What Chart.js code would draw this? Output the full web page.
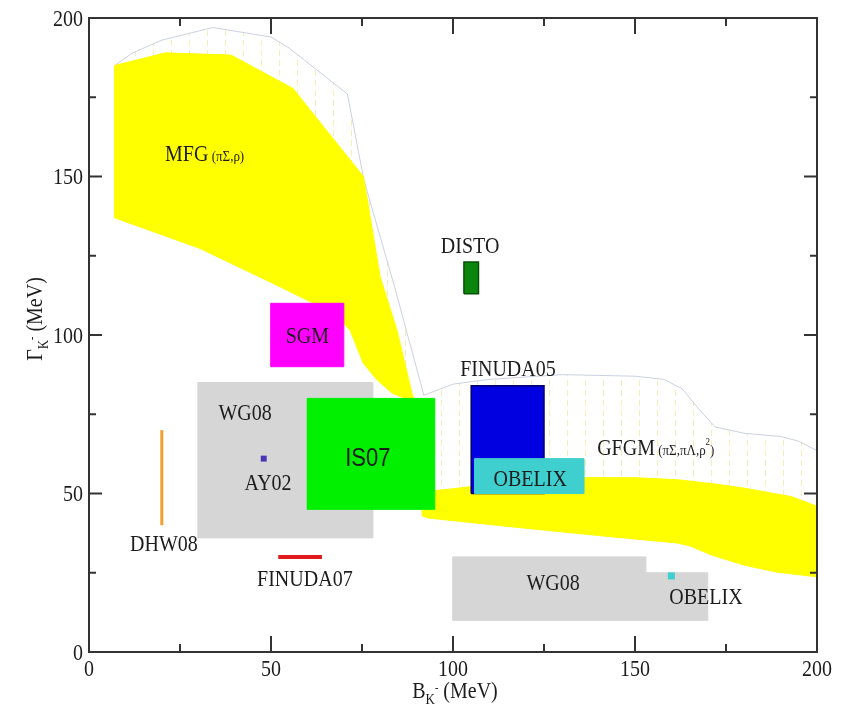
<!DOCTYPE html>
<html>
<head>
<meta charset="utf-8">
<title>K⁻ nuclear potential: binding energy vs width</title>
<script src="https://cdn.jsdelivr.net/npm/chart.js@4.4.1/dist/chart.umd.min.js"></script>
<style>
  html, body { margin: 0; padding: 0; background: #ffffff; }
  #wrap { width: 842px; height: 715px; }
</style>
</head>
<body>
<div id="wrap"><canvas id="chart" width="842" height="715"></canvas></div>
<script>
// ---- axis ticks (MeV) ----
const majorTicks = [0, 50, 100, 150, 200];
const minorTicks = [25, 75, 125, 175];

// ---- MFG (πΣ,ρ) band: B_K (MeV) vs Γ_K (MeV) ----
const mfgUpperB = [7, 21, 39, 56, 75.4, 80, 84.6, 88.7, 90];
const mfgUpperG = [185, 189, 188.3, 177.8, 150, 118.3, 101.6, 81.7, 77];
const mfgLowerB = [88, 83.2, 79, 75.3, 71.7, 67, 52.5, 30.5, 7];
const mfgLowerG = [79.5, 81.7, 86, 91.2, 101.6, 107, 115.2, 127.3, 137];
// outer envelope of the MFG calculation
const mfgEdgeB = [7, 12, 20, 34, 50, 55, 71, 75.5, 84, 92];
const mfgEdgeG = [185, 189, 193, 197, 194, 190.5, 176, 149, 115, 81];

// ---- GFGM (πΣ,πΛ,ρ²) band ----
const gfgmUpperB = [91.5, 100, 115, 137, 150, 162, 172, 180, 193, 200];
const gfgmUpperG = [50.5, 51.5, 53.5, 55, 55, 54.3, 53, 51.7, 49, 46];
const gfgmLowerB = [200, 189, 180, 171, 165, 161.5, 143, 116, 93, 91.5];
const gfgmLowerG = [23.7, 25.2, 27.4, 30.6, 33.5, 34.4, 36.4, 39.5, 42.3, 43];
// outer envelope of the GFGM calculation
const gfgmEdgeB = [92, 100, 110, 130, 150, 158, 163, 168, 172, 180, 190, 195, 200];
const gfgmEdgeG = [81, 84.5, 86, 87.5, 87, 86, 83, 76, 71, 69, 68, 66.5, 63.5];

// ---- experimental / model boxes: ranges in B and Γ ----
const boxNames = ['WG08', 'WG08', 'WG08', 'SGM', 'DISTO', 'IS07', 'FINUDA05', 'OBELIX'];
const boxBLow  = [30, 100, 153, 50, 103, 60, 105, 106];
const boxBHigh = [78, 153, 170, 70, 107, 95, 125, 136];
const boxGLow  = [36, 10, 10, 90, 113, 45, 50, 50];
const boxGHigh = [85, 30, 25, 110, 123, 80, 84, 61];

// ---- ranges drawn as bars ----
const dhw08B = [20, 20];
const dhw08G = [40, 70];
const finuda07B = [52, 64];
const finuda07G = [30, 30];

// ---- single points ----
const ay02B = [48];
const ay02G = [61];
const obelixPointB = [160];
const obelixPointG = [24];

// ---------------------------------------------------------------
const pts = (bs, gs) => bs.map((b, i) => ({ x: b, y: gs[i] }));
const ring = (bUp, gUp, bLo, gLo) => pts(bUp.concat(bLo), gUp.concat(gLo)).concat([{ x: bUp[0], y: gUp[0] }]);
const rect = i => pts(
  [boxBLow[i], boxBHigh[i], boxBHigh[i], boxBLow[i], boxBLow[i]],
  [boxGLow[i], boxGLow[i], boxGHigh[i], boxGHigh[i], boxGLow[i]]
);

// faint vertical dashed hatching for the model envelopes
function hatch() {
  const c = document.createElement('canvas');
  c.width = 18; c.height = 10;
  const g = c.getContext('2d');
  g.strokeStyle = 'rgba(236, 226, 120, 0.55)';
  g.lineWidth = 1;
  g.beginPath(); g.moveTo(9.5, 0); g.lineTo(9.5, 6); g.stroke();
  return g.createPattern(c, 'repeat');
}
const hatchFill = hatch();

const boxStyle = {
  'WG08': { bg: '#d6d6d6', border: '#d6d6d6', w: 1 },
  'SGM': { bg: '#ff00ff', border: '#ff00ff', w: 1 },
  'DISTO': { bg: '#0b850b', border: '#055205', w: 1.5 },
  'IS07': { bg: '#00f000', border: '#00f000', w: 1 },
  'FINUDA05': { bg: '#0000e0', border: '#00006a', w: 1.5 },
  'OBELIX': { bg: '#40cfcf', border: '#40cfcf', w: 1 }
};
const boxOrder = { 'WG08': 60, 'SGM': 50, 'DISTO': 50, 'IS07': 45, 'FINUDA05': 44, 'OBELIX': 40 };

const datasets = [];

// model envelopes (hatched regions + thin outline)
datasets.push({
  data: ring(mfgEdgeB, mfgEdgeG, mfgUpperB.slice().reverse(), mfgUpperG.slice().reverse()),
  fill: 'shape', backgroundColor: hatchFill, borderColor: 'rgba(0,0,0,0)', borderWidth: 1, order: 100
});
datasets.push({
  data: ring(gfgmEdgeB, gfgmEdgeG, gfgmUpperB.slice().reverse(), gfgmUpperG.slice().reverse()),
  fill: 'shape', backgroundColor: hatchFill, borderColor: 'rgba(0,0,0,0)', borderWidth: 1, order: 100
});
datasets.push({
  data: pts(mfgEdgeB, mfgEdgeG), fill: false,
  borderColor: 'rgba(190, 198, 218, 0.8)', borderWidth: 1, order: 95
});
datasets.push({
  data: pts(gfgmEdgeB, gfgmEdgeG), fill: false,
  borderColor: 'rgba(190, 198, 218, 0.8)', borderWidth: 1, order: 95
});

// yellow model bands
datasets.push({
  data: ring(mfgUpperB, mfgUpperG, mfgLowerB, mfgLowerG),
  fill: 'shape', backgroundColor: '#ffff00', borderColor: '#ffff00', borderWidth: 1, order: 80
});
datasets.push({
  data: ring(gfgmUpperB, gfgmUpperG, gfgmLowerB, gfgmLowerG),
  fill: 'shape', backgroundColor: '#ffff00', borderColor: '#ffff00', borderWidth: 1, order: 80
});

// boxes
boxNames.forEach((name, i) => {
  const s = boxStyle[name];
  datasets.push({
    data: rect(i), fill: 'shape', backgroundColor: s.bg,
    borderColor: s.border, borderWidth: s.w, order: boxOrder[name]
  });
});

// DHW08 and FINUDA07 ranges
datasets.push({ data: pts(dhw08B, dhw08G), borderColor: '#f0a030', borderWidth: 3, fill: false, order: 20 });
datasets.push({ data: pts(finuda07B, finuda07G), borderColor: '#e01a1a', borderWidth: 4, fill: false, order: 20 });

// single points
datasets.push({
  data: pts(ay02B, ay02G), showLine: false, pointStyle: 'rect', pointRadius: 4.2,
  pointBackgroundColor: '#4a35b5', pointBorderWidth: 0, order: 10
});
datasets.push({
  data: pts(obelixPointB, obelixPointG), showLine: false, pointStyle: 'rect', pointRadius: 5,
  pointBackgroundColor: '#40cfcf', pointBorderWidth: 0, order: 10
});

// ---- text placed in data coordinates ----
const SERIF = "'Liberation Serif', 'Times New Roman', serif";
const SANS = "'Liberation Sans', Arial, sans-serif";
const STRETCH = 1.15;   // glyphs are drawn a little taller than wide
const labelSpots = [
  { b: 20.9, g: 157.4, align: 'left', parts: [{ t: 'MFG', s: 20 }, { t: ' (πΣ,ρ)', s: 13 }] },
  { b: 60, g: 100, parts: [{ t: 'SGM', s: 20 }] },
  { b: 104.7, g: 128.4, parts: [{ t: 'DISTO', s: 20 }] },
  { b: 115.1, g: 89.6, parts: [{ t: 'FINUDA05', s: 20 }] },
  { b: 139.6, g: 64.7, align: 'left', parts: [{ t: 'GFGM', s: 20 }, { t: ' (πΣ,πΛ,ρ', s: 13 }, { t: '2', s: 9, dy: -8 }, { t: ')', s: 13 }] },
  { b: 121.2, g: 54.9, parts: [{ t: 'OBELIX', s: 20 }] },
  { b: 42.9, g: 75.7, parts: [{ t: 'WG08', s: 20 }] },
  { b: 49.2, g: 53.6, parts: [{ t: 'AY02', s: 20 }] },
  { b: 76.6, g: 61.2, font: SANS, parts: [{ t: 'IS07', s: 22 }] },
  { b: 20.6, g: 34.4, parts: [{ t: 'DHW08', s: 20 }] },
  { b: 59.3, g: 23.3, parts: [{ t: 'FINUDA07', s: 20 }] },
  { b: 127.5, g: 22.1, parts: [{ t: 'WG08', s: 20 }] },
  { b: 169.5, g: 17.4, parts: [{ t: 'OBELIX', s: 20 }] }
];

// draws a run of differently sized pieces on one baseline
function drawParts(ctx, parts, x, y, align, family, stretch) {
  let total = 0;
  const widths = parts.map(p => {
    ctx.font = p.s + 'px ' + family;
    const w = ctx.measureText(p.t).width;
    total += w;
    return w;
  });
  let cx = align === 'left' ? x : (align === 'right' ? x - total : x - total / 2);
  ctx.save();
  ctx.translate(0, y);
  ctx.scale(1, stretch || 1);
  parts.forEach((p, i) => {
    ctx.font = p.s + 'px ' + family;
    ctx.fillText(p.t, cx, (p.dy || 0));
    cx += widths[i];
  });
  ctx.restore();
}

const labelsPlugin = {
  id: 'regionLabels',
  afterDatasetsDraw(chart) {
    const { ctx } = chart;
    const xs = chart.scales.x, ys = chart.scales.y;
    ctx.save();
    ctx.fillStyle = '#1c1c1c';
    ctx.textBaseline = 'alphabetic';
    ctx.textAlign = 'left';
    labelSpots.forEach(l => {
      const px = xs.getPixelForValue(l.b);
      const py = ys.getPixelForValue(l.g);
      const size = l.parts[0].s;
      drawParts(ctx, l.parts, px, py + size * 0.38, l.align, l.font || SERIF, STRETCH);
    });
    ctx.restore();
  }
};

// frame with inward ticks on all four sides, tick labels and axis titles
const framePlugin = {
  id: 'frameTicks',
  afterDraw(chart) {
    const { ctx, chartArea } = chart;
    const { left, right, top, bottom } = chartArea;
    const xs = chart.scales.x, ys = chart.scales.y;
    ctx.save();
    ctx.strokeStyle = '#333333';
    ctx.lineWidth = 2;
    ctx.strokeRect(left, top, right - left, bottom - top);
    ctx.beginPath();
    const ticks = majorTicks.slice(1, -1).map(v => [v, true]).concat(minorTicks.map(v => [v, false]));
    ticks.forEach(([v, major]) => {
      const px = xs.getPixelForValue(v);
      const lx = major ? 16 : 8;
      ctx.moveTo(px, bottom); ctx.lineTo(px, bottom - lx);
      ctx.moveTo(px, top); ctx.lineTo(px, top + lx);
      const py = ys.getPixelForValue(v);
      const ly = major ? 13 : 7;
      ctx.moveTo(left, py); ctx.lineTo(left + ly, py);
      ctx.moveTo(right, py); ctx.lineTo(right - ly, py);
    });
    ctx.stroke();

    ctx.fillStyle = '#1c1c1c';
    ctx.textBaseline = 'alphabetic';
    ctx.textAlign = 'left';
    // tick labels
    majorTicks.forEach(v => {
      const t = [{ t: String(v), s: 20 }];
      drawParts(ctx, t, xs.getPixelForValue(v), bottom + 24, 'center', SERIF, STRETCH);
      drawParts(ctx, t, left - 6, ys.getPixelForValue(v) + 7.5, 'right', SERIF, STRETCH);
    });
    const titleParts = sym => [
      { t: sym, s: 20 }, { t: 'K', s: 13, dy: 5 }, { t: '-', s: 10, dy: -6 }, { t: ' (MeV)', s: 20 }
    ];
    // x title
    drawParts(ctx, titleParts('B'), (left + right) / 2 + 2, 698, 'center', SERIF, STRETCH);
    // y title
    ctx.translate(42, 319);
    ctx.rotate(-Math.PI / 2);
    drawParts(ctx, titleParts('Γ'), 0, 0, 'center', SERIF, STRETCH);
    ctx.restore();
  }
};

new Chart(document.getElementById('chart'), {
  type: 'line',
  data: { datasets },
  options: {
    responsive: false,
    animation: false,
    events: [],
    layout: { padding: { top: 18, right: 25, left: 0, bottom: 0 } },
    elements: { point: { radius: 0 }, line: { tension: 0 } },
    plugins: { legend: { display: false }, tooltip: { enabled: false } },
    scales: {
      x: {
        type: 'linear', min: 0, max: 200,
        afterBuildTicks: s => { s.ticks = majorTicks.map(v => ({ value: v })); },
        afterFit: s => { s.height = 63; },
        grid: { display: false, drawTicks: false },
        border: { display: false },
        ticks: { display: false }
      },
      y: {
        type: 'linear', min: 0, max: 200,
        afterBuildTicks: s => { s.ticks = majorTicks.map(v => ({ value: v })); },
        afterFit: s => { s.width = 89; },
        grid: { display: false, drawTicks: false },
        border: { display: false },
        ticks: { display: false }
      }
    }
  },
  plugins: [labelsPlugin, framePlugin]
});
</script>
</body>
</html>
